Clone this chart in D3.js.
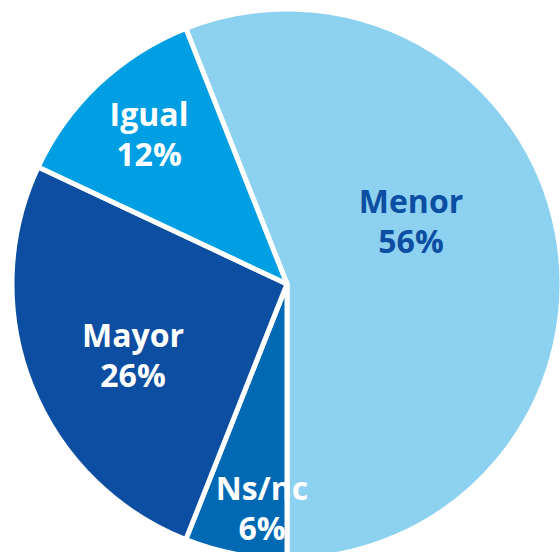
<!DOCTYPE html>
<html>
<head>
<meta charset="utf-8">
<script src="https://cdn.jsdelivr.net/npm/d3@7"></script>
<style>
  html, body { margin: 0; padding: 0; background: #fff; }
  svg { display: block; }
  .label { font-family: "Open Sans", sans-serif; font-weight: 700; font-size: 32px; }
</style>
</head>
<body>
<div id="chart"></div>
<script>
// data
const categories = ["Menor", "Ns/nc", "Mayor", "Igual"];
const values = [56, 6, 26, 12];
const valueLabels = ["56%", "6%", "26%", "12%"];

// styles / layout
const w = 560;
const h = 552;
const cx = 287, cy = 284;
const radius = 275;
const colors = ["#8dd1f1", "#0069b4", "#0b4ea2", "#009fe3"];
const labelColors = ["#0b4ea2", "#ffffff", "#ffffff", "#ffffff"];
// label block centre, relative to pie centre
const labelOffsets = [[124, -63], [-25, 224], [-154, 71], [-138, -150]];

const svg = d3.select("#chart")
              .append("svg")
              .attr("width", w)
              .attr("height", h);

const rows = categories.map((c, i) => ({ name: c, value: values[i], text: valueLabels[i], i: i }));

// Menor starts left of top and ends straight down
const startDeg = 180 - 360 * values[0] / d3.sum(values);
const pie = d3.pie()
              .value(d => d.value)
              .sort(null)
              .startAngle(startDeg * Math.PI / 180)
              .endAngle(startDeg * Math.PI / 180 + 2 * Math.PI);

const arc = d3.arc().innerRadius(0).outerRadius(radius);

const g = svg.append("g").attr("transform", `translate(${cx}, ${cy})`);

g.selectAll("path")
 .data(pie(rows))
 .enter().append("path")
 .attr("d", arc)
 .attr("fill", d => colors[d.data.i])
 .attr("stroke", "#fff")
 .attr("stroke-width", 5)
 .attr("stroke-linejoin", "round");

const labels = g.selectAll("text.label")
                .data(rows)
                .enter().append("text")
                .attr("class", "label")
                .attr("text-anchor", "middle")
                .attr("fill", d => labelColors[d.i]);

labels.append("tspan")
      .attr("x", d => labelOffsets[d.i][0])
      .attr("y", d => labelOffsets[d.i][1] - 8)
      .text(d => d.name);

labels.append("tspan")
      .attr("x", d => labelOffsets[d.i][0])
      .attr("y", d => labelOffsets[d.i][1] + 32)
      .text(d => d.text);
</script>
</body>
</html>
